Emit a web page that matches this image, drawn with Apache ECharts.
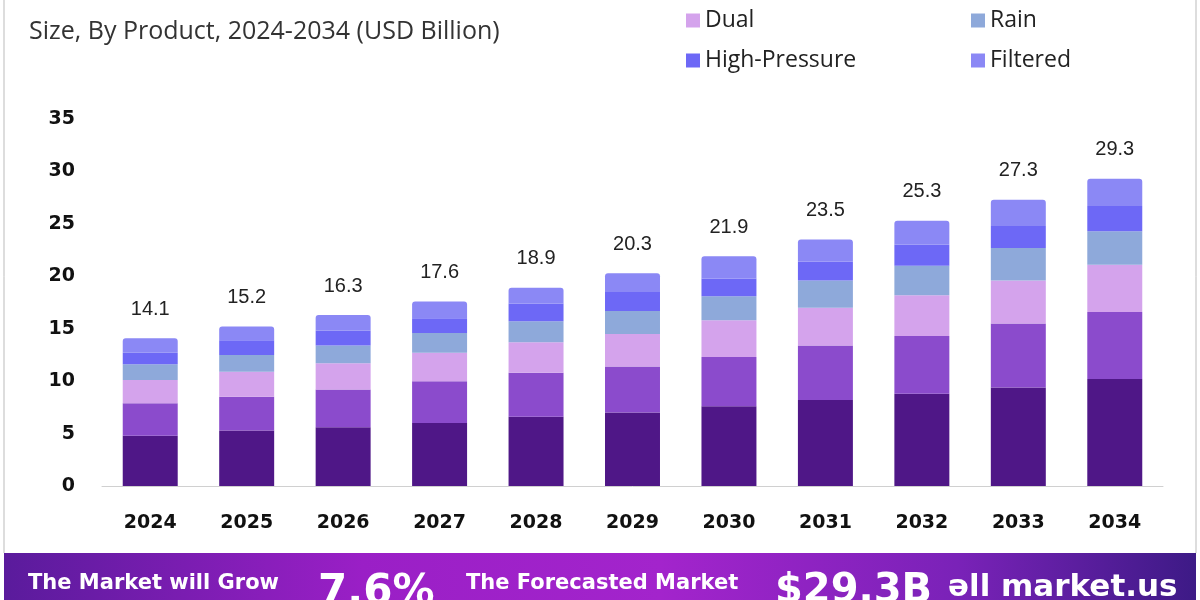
<!DOCTYPE html>
<html><head><meta charset="utf-8">
<script src="https://cdn.jsdelivr.net/npm/echarts@6/dist/echarts.min.js"></script>
<style>html,body{margin:0;padding:0;background:#fff}#c{width:1200px;height:600px}</style>
</head><body><div id="c"></div>
<script>
const years = ['2024','2025','2026','2027','2028','2029','2030','2031','2032','2033','2034'];
const fixed        = [4.8, 5.3, 5.6, 6.0, 6.6, 7.0, 7.6, 8.2, 8.8, 9.4, 10.2];
const handheld     = [3.1, 3.2, 3.6, 4.0, 4.2, 4.4, 4.7, 5.2, 5.5, 6.1, 6.4];
const dual         = [2.2, 2.4, 2.5, 2.7, 2.9, 3.1, 3.5, 3.6, 3.9, 4.1, 4.5];
const rain         = [1.5, 1.6, 1.7, 1.9, 2.0, 2.2, 2.3, 2.6, 2.8, 3.1, 3.2];
const highPressure = [1.1, 1.4, 1.4, 1.4, 1.7, 1.8, 1.7, 1.8, 2.0, 2.1, 2.4];
const filtered     = [1.4, 1.3, 1.5, 1.6, 1.5, 1.8, 2.1, 2.1, 2.3, 2.5, 2.6];
const totals       = [14.1, 15.2, 16.3, 17.6, 18.9, 20.3, 21.9, 23.5, 25.3, 27.3, 29.3];
const yTicks = [0, 5, 10, 15, 20, 25, 30, 35];

const seriesDefs = [
  ['Fixed', fixed, '#4f1787'],
  ['Handheld', handheld, '#8b4bcc'],
  ['Dual', dual, '#d4a3ec'],
  ['Rain', rain, '#8ea9da'],
  ['High-Pressure', highPressure, '#6d68f6'],
  ['Filtered', filtered, '#8b88f5']
];

const chart = echarts.init(document.getElementById('c'), null, {renderer: 'canvas'});
const series = seriesDefs.map((d, i) => {
  const s = {
    name: d[0], type: 'bar', stack: 'total', data: d[1], barWidth: '57%',
    itemStyle: {color: d[2], borderRadius: i === seriesDefs.length - 1 ? [3,3,0,0] : 0},
    emphasis: {disabled: true}
  };
  if (i === seriesDefs.length - 1) {
    s.label = {
      show: true, position: 'top', distance: 19,
      formatter: p => totals[p.dataIndex].toFixed(1),
      fontFamily: 'Liberation Sans, Arial, sans-serif', fontSize: 20, color: '#222'
    };
  }
  return s;
});

const wide = '"Open Sans", "Noto Sans", sans-serif';
const legendText = {fontFamily: wide, fontSize: 23, color: '#222', lineHeight: 22};

chart.setOption({
  animation: false,
  backgroundColor: '#fff',
  title: {
    text: 'Size, By Product, 2024-2034 (USD Billion)',
    left: 24, top: 14,
    textStyle: {fontFamily: wide, fontSize: 25, fontWeight: 'normal', color: '#333'}
  },
  legend: [
    {data: ['Dual', 'High-Pressure'], orient: 'vertical', left: 681, top: 4, itemGap: 17,
     icon: 'rect', itemWidth: 14, itemHeight: 14, textStyle: legendText, selectedMode: false},
    {data: ['Rain', 'Filtered'], orient: 'vertical', left: 966, top: 4, itemGap: 17,
     icon: 'rect', itemWidth: 14, itemHeight: 14, textStyle: legendText, selectedMode: false}
  ],
  grid: {left: 102, right: 37, top: 119, bottom: 114, containLabel: false},
  xAxis: {
    type: 'category', data: years,
    axisLine: {show: true, lineStyle: {color: '#d0d0d0', width: 1}},
    axisTick: {show: false},
    axisLabel: {margin: 28, fontFamily: '"DejaVu Sans", sans-serif', fontWeight: 'bold', fontSize: 19, color: '#111'}
  },
  yAxis: {
    type: 'value', min: yTicks[0], max: yTicks[yTicks.length - 1], interval: 5,
    axisLine: {show: false}, axisTick: {show: false}, splitLine: {show: false},
    axisLabel: {margin: 27, fontFamily: '"DejaVu Sans", sans-serif', fontWeight: 'bold', fontSize: 19, color: '#111'}
  },
  graphic: [
    {type: 'line', shape: {x1: 4, y1: 0, x2: 4, y2: 553}, style: {stroke: '#bbb', lineWidth: 1}},
    {type: 'line', shape: {x1: 1196, y1: 0, x2: 1196, y2: 553}, style: {stroke: '#bbb', lineWidth: 1}},
    {type: 'rect', shape: {x: 4, y: 553, width: 1192, height: 47},
     style: {fill: new echarts.graphic.LinearGradient(0, 0, 1, 0, [
       {offset: 0, color: '#5a1b9c'}, {offset: 0.3, color: '#9a1fc6'},
       {offset: 0.55, color: '#a324cc'}, {offset: 0.8, color: '#7a22b8'}, {offset: 1, color: '#3d1a86'}])}},
    {type: 'text', left: 28, top: 573, style: {text: 'The Market will Grow', fill: '#fff', font: 'bold 21px "DejaVu Sans", sans-serif'}},
    {type: 'text', left: 318, top: 572, style: {text: '7.6%', fill: '#fff', font: 'bold 42px "DejaVu Sans", sans-serif'}},
    {type: 'text', left: 466, top: 573, style: {text: 'The Forecasted Market', fill: '#fff', font: 'bold 21px "DejaVu Sans", sans-serif'}},
    {type: 'text', left: 775, top: 572, style: {text: '$29.3B', fill: '#fff', font: 'bold 40px "DejaVu Sans", sans-serif'}},
    {type: 'text', left: 948, top: 572, style: {text: 'ǝll market.us', fill: '#fff', font: 'bold 31px "DejaVu Sans", sans-serif'}}
  ],
  series: series
});
</script>
</body></html>
